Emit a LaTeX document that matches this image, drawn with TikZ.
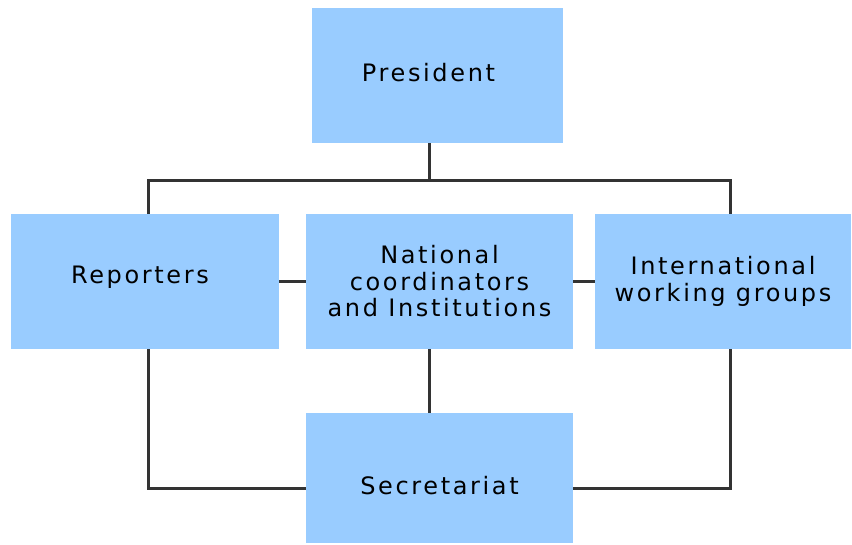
\documentclass[tikz,border=0pt]{standalone}
\usepackage{fontspec}
\setmainfont{DejaVu Sans}[LetterSpace=11]
\usetikzlibrary{positioning, backgrounds}
\definecolor{boxblue}{HTML}{99CCFF}
\definecolor{linkgray}{HTML}{333333}
\newcommand{\liftby}[2]{\raisebox{#1}[\height][\depth]{#2}}

\begin{document}
\begin{tikzpicture}[x=1pt, y=-1pt,
        unit/.style={fill=boxblue, inner sep=0pt, align=center,
                     font=\fontsize{24}{26.5}\selectfont},
        link/.style={draw=linkgray, line width=3pt}]
    \useasboundingbox (0,0) rectangle (852,544);
    \node[unit, minimum width=251pt, minimum height=135pt] (president) at (437.5,75.5) {\liftby{3pt}{President}\hspace*{18pt}};
    \node[unit, minimum width=268pt, minimum height=135pt] (reporters) at (145,281.5) {\liftby{4pt}{Reporters}\hspace*{10pt}};
    \node[unit, minimum width=267pt, minimum height=135pt] (national) at (439.5,281.5) {National\\coordinators\\and Institutions};
    \node[unit, minimum width=256pt, minimum height=135pt] (groups) at (723,281.5) {International\\working groups};
    \node[unit, minimum width=267pt, minimum height=130pt] (secretariat) at (439.5,478) {\liftby{-8pt}{Secretariat}};
    % frame behind the boxes
    \coordinate (topleft) at (148,180.5);
    \coordinate (topright) at (730,180.5);
    \coordinate (botleft) at (148,488);
    \coordinate (botright) at (730,488);
    \begin{scope}[on background layer]
        \draw[link] (botleft) -- (topleft) -- (topright) -- (botright) -- cycle;
        \draw[link] ([xshift=-8pt]president.south) -- ([xshift=-8pt]president.south |- topleft);
        \draw[link] ([xshift=-10pt]national.south) -- ([xshift=-10pt]secretariat.north);
        \draw[link] (reporters.east) -- (national.west);
        \draw[link] (national.east) -- (groups.west);
    \end{scope}
\end{tikzpicture}
\end{document}
